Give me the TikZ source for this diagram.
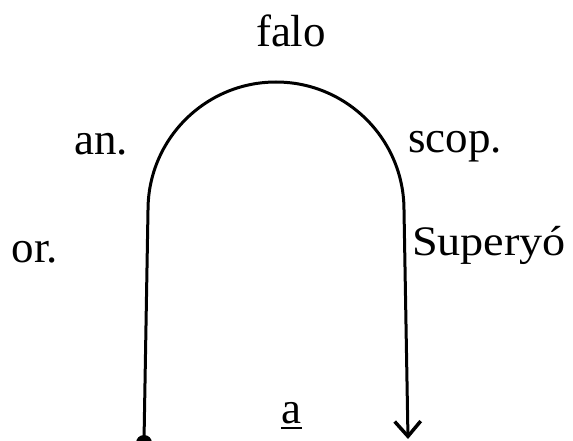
\documentclass[tikz,border=0pt]{standalone}
\usepackage{fontspec}
\setmainfont{Liberation Serif}
\usepackage{graphicx}
\usetikzlibrary{arrows.meta}
\tikzset{
  lbl/.style={inner sep=0pt, anchor=base, font=\fontsize{45}{50}\selectfont},
  arch/.style={line width=3pt, line cap=butt, line join=round},
}
\begin{document}
\begin{tikzpicture}[x=1pt,y=-1pt]
\useasboundingbox (0,0) rectangle (573,441);
\coordinate (lb) at (144,441);
\coordinate (lt) at (148,210);
\coordinate (rt) at (404,210);
\coordinate (rb) at (408,439);
\draw[arch, -{Straight Barb[length=15pt,width=26pt,line width=3.5pt]}]
  (lb) -- (lt) arc[start angle=180, end angle=360, radius=128] -- (rb);
\fill (144,443) circle (8);
\node[lbl] (falo) at (291,47) {falo};
\node[lbl] (an) at (101,154) {an.};
\node[lbl] (scop) at (455,153) {scop.};
\node[lbl] (or) at (35,262) {or.};
\node[lbl, font=\fontsize{42}{46}\selectfont] (sup) at (489,255) {\scalebox{1.1}[1]{Superyó}};
\node[lbl] (a) at (291.5,423) {a};
\draw[line width=2pt] ([yshift=-5pt]a.base west) -- ([yshift=-5pt]a.base east);
\end{tikzpicture}
\end{document}
